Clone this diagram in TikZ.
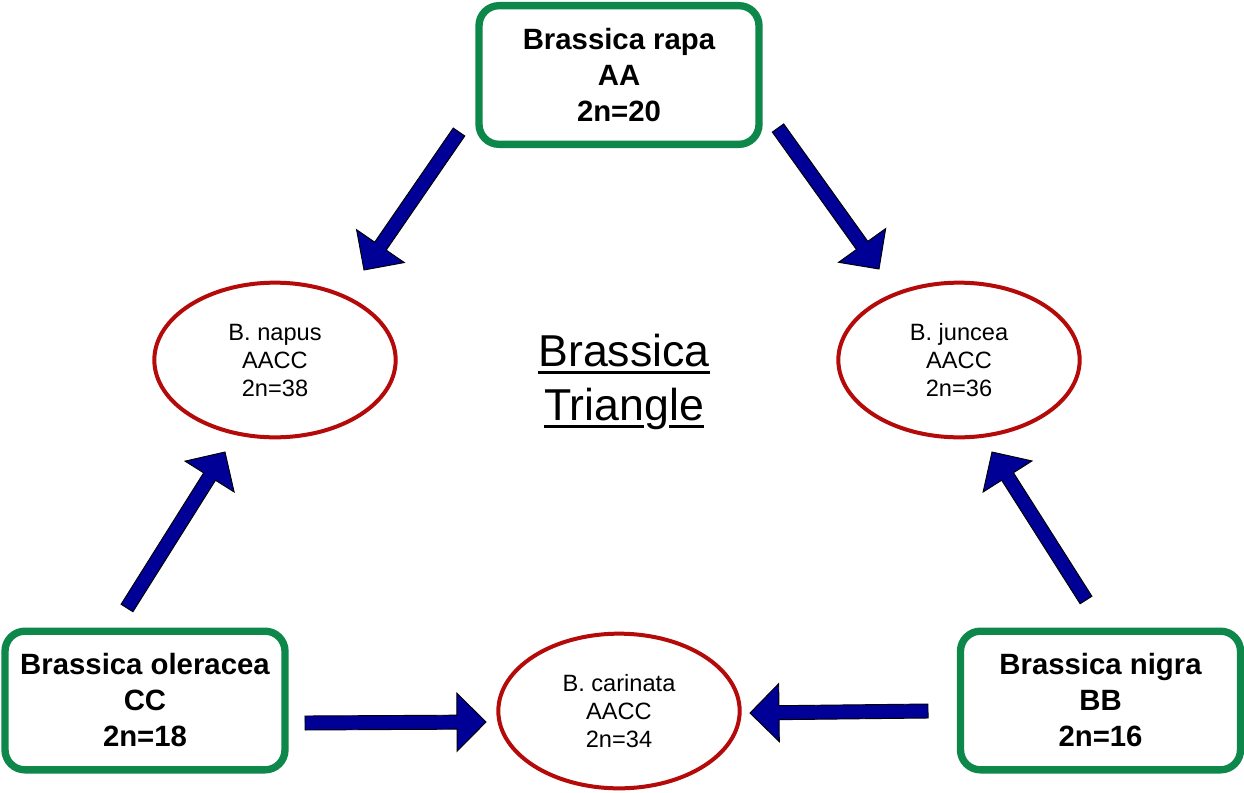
\documentclass[tikz,border=0pt]{standalone}
\usepackage{fontspec}
\setmainfont{Liberation Sans}
\usetikzlibrary{shapes.geometric,calc}
\definecolor{boxgreen}{RGB}{14,135,74}
\definecolor{ellred}{RGB}{180,10,10}
\definecolor{arrblue}{RGB}{0,0,150}
\newsavebox{\myulsave}
\newcommand{\myul}[1]{\sbox{\myulsave}{#1}\rlap{\rule[-5.5pt]{\wd\myulsave}{2.2pt}}\usebox{\myulsave}}
\newcommand{\blockarr}[2]{%
  \coordinate (#1-#2-b) at ($(#2)!21.75pt!(#1)$);
  \draw[barrow] ($(#1)!5.25pt!90:(#2)$) -- ($(#1-#2-b)!5.25pt!90:(#2)$) -- ($(#1-#2-b)!21.75pt!90:(#2)$) -- (#2) -- ($(#1-#2-b)!21.75pt!-90:(#2)$) -- ($(#1-#2-b)!5.25pt!-90:(#2)$) -- ($(#1)!5.25pt!-90:(#2)$) -- cycle;}
\begin{document}
\begin{tikzpicture}[x=0.75pt,y=-0.75pt,
  parent/.style={draw=boxgreen, line width=5.5pt, rounded corners=15pt, minimum width=210pt, minimum height=104pt, align=center, font=\fontsize{22}{27}\selectfont\bfseries, inner sep=0pt},
  hybrid/.style={ellipse, draw=ellred, line width=3pt, minimum width=181pt, minimum height=116pt, align=center, font=\fontsize{17.7}{21}\selectfont, inner sep=0pt},
  titlestyle/.style={align=center, font=\fontsize{33.5}{40}\selectfont, inner sep=0pt},
  barrow/.style={draw=black, line width=0.7pt, fill=arrblue, line join=miter}]
\fill[white] (0,0) rectangle (1244,792);
\useasboundingbox (0,0) rectangle (1244,792);
\node[parent] (rapa) at (619,75) {Brassica rapa\\AA\\2n=20};
\node[parent] (oler) at (145,700.5) {Brassica oleracea\\CC\\2n=18};
\node[parent] (nigra) at (1100.5,700.5) {Brassica nigra\\BB\\2n=16};
\node[hybrid] (napus) at (275,360) {B. napus\\AACC\\2n=38};
\node[hybrid] (juncea) at (959,360) {B. juncea\\AACC\\2n=36};
\node[hybrid] (carinata) at (619,711) {B. carinata\\AACC\\2n=34};
\node[titlestyle] (title) at (624,382) {\myul{Brassica}\\\myul{Trian}g\myul{le}};
\coordinate (a1t) at (459,132); \coordinate (a1h) at (364,270);
\coordinate (a2t) at (778,128); \coordinate (a2h) at (879,269);
\coordinate (a3t) at (127,608); \coordinate (a3h) at (225,452);
\coordinate (a4t) at (1086,600); \coordinate (a4h) at (992,452);
\coordinate (a5t) at (305,723); \coordinate (a5h) at (486,722);
\coordinate (a6t) at (928,711); \coordinate (a6h) at (750,713);
\blockarr{a1t}{a1h}
\blockarr{a2t}{a2h}
\blockarr{a3t}{a3h}
\blockarr{a4t}{a4h}
\blockarr{a5t}{a5h}
\blockarr{a6t}{a6h}
\end{tikzpicture}
\end{document}
